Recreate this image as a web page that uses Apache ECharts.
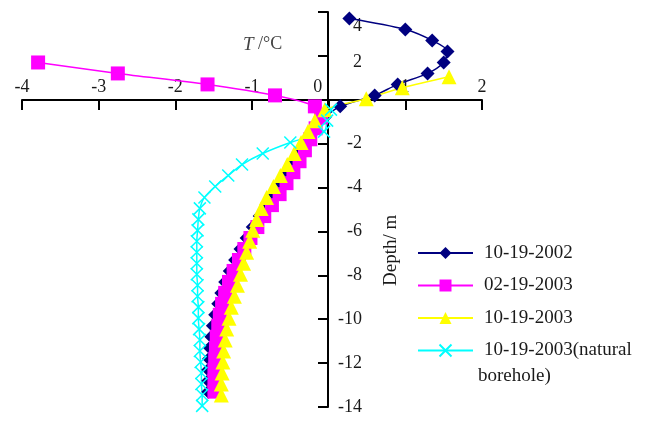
<!DOCTYPE html>
<html><head><meta charset="utf-8">
<script src="https://cdn.jsdelivr.net/npm/echarts@6/dist/echarts.min.js"></script>
<style>html,body{margin:0;padding:0;background:#fff}#c{width:667px;height:421px}</style>
</head><body><div id="c"></div>
<script>
const seriesNames = ['10-19-2002', '02-19-2003', '10-19-2003', '10-19-2003(natural borehole)'];
const xTicks = [-4, -3, -2, -1, 0, 1, 2];
const yTicks = [4, 2, 0, -2, -4, -6, -8, -10, -12, -14];

const depth2002 = [3.7,3.2,2.7,2.2,1.7,1.2,0.7,0.2,-0.3,-0.8,-1.3,-1.8,-2.3,-2.8,-3.3,-3.8,-4.3,-4.8,-5.3,-5.8,-6.3,-6.8,-7.3,-7.8,-8.3,-8.8,-9.3,-9.8,-10.3,-10.8,-11.3,-11.8,-12.3,-12.8,-13.3];
const temp2002 = [0.27,1.00,1.35,1.55,1.50,1.29,0.90,0.60,0.15,-0.05,-0.18,-0.27,-0.36,-0.44,-0.53,-0.62,-0.71,-0.80,-0.90,-0.99,-1.07,-1.15,-1.22,-1.29,-1.35,-1.40,-1.44,-1.48,-1.51,-1.53,-1.55,-1.56,-1.57,-1.57,-1.57];

const depthFeb2003 = [1.7,1.2,0.7,0.2,-0.3,-0.8,-1.3,-1.8,-2.3,-2.8,-3.3,-3.8,-4.3,-4.8,-5.3,-5.8,-6.3,-6.8,-7.3,-7.8,-8.3,-8.8,-9.3,-9.8,-10.3,-10.8,-11.3,-11.8,-12.3,-12.8,-13.3];
const tempFeb2003 = [-3.79,-2.75,-1.58,-0.70,-0.18,-0.10,-0.17,-0.24,-0.31,-0.38,-0.46,-0.55,-0.64,-0.74,-0.84,-0.93,-1.02,-1.10,-1.17,-1.24,-1.30,-1.35,-1.39,-1.42,-1.44,-1.46,-1.47,-1.48,-1.49,-1.49,-1.49];

const depthOct2003 = [1.05,0.55,0.05,-0.45,-0.95,-1.45,-1.95,-2.45,-2.95,-3.45,-3.95,-4.45,-4.95,-5.45,-5.95,-6.45,-6.95,-7.45,-7.95,-8.45,-8.95,-9.45,-9.95,-10.45,-10.95,-11.45,-11.95,-12.45,-12.95,-13.45];
const tempOct2003 = [1.57,0.96,0.49,-0.05,-0.18,-0.27,-0.36,-0.45,-0.54,-0.63,-0.72,-0.81,-0.88,-0.94,-0.99,-1.03,-1.07,-1.11,-1.15,-1.19,-1.23,-1.27,-1.30,-1.33,-1.35,-1.37,-1.38,-1.39,-1.40,-1.40];

const depthNatural = [-0.45,-0.95,-1.45,-1.95,-2.45,-2.95,-3.45,-3.95,-4.45,-4.95,-5.45,-5.95,-6.45,-6.95,-7.45,-7.95,-8.45,-8.95,-9.45,-9.95,-10.45,-10.95,-11.45,-11.95,-12.45,-12.95,-13.45,-13.95];
const tempNatural = [0.03,-0.02,-0.06,-0.50,-0.86,-1.13,-1.31,-1.48,-1.62,-1.68,-1.70,-1.71,-1.72,-1.72,-1.72,-1.72,-1.71,-1.71,-1.70,-1.70,-1.69,-1.68,-1.68,-1.67,-1.66,-1.66,-1.65,-1.65];

function pairs(t, d) { return t.map((v, i) => [v, d[i]]); }
const FONT = 'Liberation Serif';
const TXT = '#1a1a1a';

const chart = echarts.init(document.getElementById('c'), null, {renderer: 'canvas'});
const xSym = 'path://M0,0L10,10M10,0L0,10';
const labRich = {fontFamily: FONT, fontSize: 18, color: TXT};

chart.setOption({
  animation: false,
  backgroundColor: '#fff',
  grid: {left: 22, right: 185, top: 12, bottom: 14, containLabel: false, outerBoundsMode: 'none'},
  xAxis: {
    type: 'value', position: 'top', offset: -88, min: xTicks[0], max: xTicks[xTicks.length - 1], interval: 1,
    axisLine: {onZero: false, lineStyle: {color: '#000', width: 2}},
    axisTick: {inside: true, length: 10, lineStyle: {color: '#000', width: 2}},
    splitLine: {show: false},
    axisLabel: {
      margin: 4, fontFamily: FONT, fontSize: 18, color: TXT,
      formatter: v => v === 0 ? '{z|0}' : String(v),
      rich: {z: Object.assign({padding: [0, 22, 0, 0]}, labRich)}
    }
  },
  yAxis: {
    type: 'value', position: 'right', offset: -154, min: yTicks[yTicks.length - 1], max: yTicks[0], interval: 2,
    axisLine: {onZero: false, lineStyle: {color: '#000', width: 2}},
    axisTick: {inside: true, length: 10, lineStyle: {color: '#000', width: 2}},
    splitLine: {show: false},
    axisLabel: {
      margin: 34, align: 'right', fontFamily: FONT, fontSize: 18, color: TXT,
      formatter: v => v === 0 ? '' : (v === 4 ? '{a|4}' : (v === 2 ? '{b|2}' : String(v))),
      rich: {a: Object.assign({padding: [28, 0, 0, 0]}, labRich), b: Object.assign({padding: [12, 0, 0, 0]}, labRich)}
    }
  },
  legend: {
    orient: 'vertical', left: 412, top: 238, itemWidth: 55, itemHeight: 15, itemGap: 12.5,
    data: seriesNames,
    textStyle: {fontFamily: FONT, fontSize: 19, color: TXT, lineHeight: 20, padding: [0, 0, 0, 6]},
    formatter: n => n === seriesNames[3] ? '10-19-2003(natural' : n
  },
  graphic: [
    {type: 'text', left: 243, top: 35, style: {
      text: '{i|T} /°C', fontFamily: FONT, fontSize: 18, fill: '#444',
      rich: {i: {fontFamily: FONT, fontStyle: 'italic', fontSize: 19, fill: '#444'}}}},
    {type: 'text', x: 382, y: 286, rotation: Math.PI / 2, style: {
      text: 'Depth/ m', fontFamily: FONT, fontSize: 19, fill: TXT}},
    {type: 'text', left: 478, top: 367, style: {
      text: 'borehole)', fontFamily: FONT, fontSize: 19, fill: TXT}}
  ],
  series: [
    {name: seriesNames[0], type: 'line', data: pairs(temp2002, depth2002), smooth: 0.3,
     symbol: 'diamond', symbolSize: 14, color: '#000080',
     lineStyle: {color: '#000080', width: 1.5}, itemStyle: {color: '#000080'}},
    {name: seriesNames[1], type: 'line', data: pairs(tempFeb2003, depthFeb2003), smooth: 0.3,
     symbol: 'rect', symbolSize: 14, color: '#ff00ff',
     lineStyle: {color: '#ff00ff', width: 1.5}, itemStyle: {color: '#ff00ff'}},
    {name: seriesNames[2], type: 'line', data: pairs(tempOct2003, depthOct2003), smooth: 0.3,
     symbol: 'triangle', symbolSize: 15, color: '#ffff00',
     lineStyle: {color: '#ffff00', width: 1.5}, itemStyle: {color: '#ffff00'}},
    {name: seriesNames[3], type: 'line', data: pairs(tempNatural, depthNatural), smooth: 0.3,
     symbol: xSym, symbolSize: 12, color: '#00ffff',
     lineStyle: {color: '#00ffff', width: 1.5},
     itemStyle: {color: '#00ffff', borderColor: '#00ffff', borderWidth: 1.5}}
  ]
});
</script>
</body></html>
